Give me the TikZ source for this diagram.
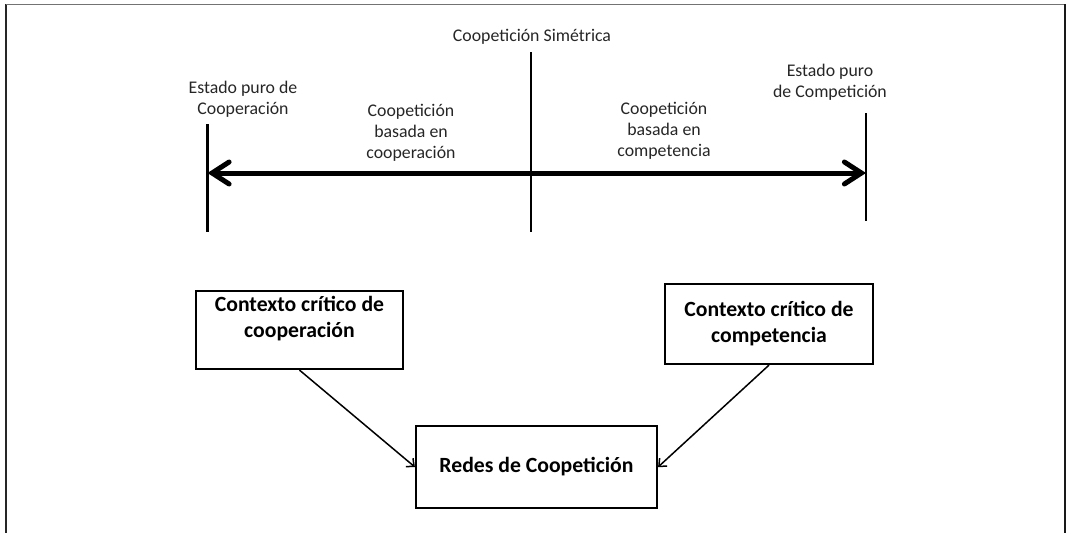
\documentclass[tikz,border=0pt]{standalone}
\usepackage{fontspec}
\setmainfont{Carlito}
\usetikzlibrary{arrows.meta}

\begin{document}
\begin{tikzpicture}[x=1pt,y=-1pt,
    every node/.style={align=center,inner sep=0pt,text=black!85,font=\fontsize{17.8}{21}\selectfont},
    contexto/.style={draw=black,line width=2.2pt,text=black,font=\bfseries\fontsize{21.7}{26}\selectfont},
    marca/.style={line width=2.4pt},
    flecha/.style={line width=1.5pt,-{Straight Barb[length=6pt,width=11pt]}}]
\useasboundingbox (0,0) rectangle (1066,533);
    \draw[line width=1.5pt,black!85] (6,533) -- (6,4);
    \draw[line width=1pt,black!55] (6,4) -- (1065,4);
    \draw[line width=2pt,black!90] (1065,4) -- (1065,533);

    \coordinate (coop) at (207.5,173);
    \coordinate (comp) at (866,173);
    \coordinate (sim) at (531,173);
    \draw[marca] (207.5,124) -- (207.5,232);
    \draw[marca] (531,52) -- (531,232);
    \draw[marca] (866,113) -- (866,221);
    \draw[line width=5pt,{Straight Barb[length=17pt,width=22pt,line cap=round]}-{Straight Barb[length=17pt,width=22pt,line cap=round]}] (coop) -- (comp);

    \node (puroCoop) at (243,99.5) {Estado puro de\\Cooperación};
    \node (simetrica) at (532,37) {Coopetición Simétrica};
    \node (basadaCoop) at (411,133) {Coopetición\\basada en\\cooperación};
    \node (basadaComp) at (664,131) {Coopetición\\basada en\\competencia};
    \node (puroComp) at (830,82.5) {Estado puro\\de Competición};

    \node[contexto,minimum width=207pt,minimum height=78pt] (ctxCoop) at (299.5,330) {Contexto crítico de\\cooperación\\~};
    \node[contexto,minimum width=208pt,minimum height=80pt] (ctxComp) at (769,324) {Contexto crítico de\\competencia};
    \node[contexto,minimum width=241pt,minimum height=82pt] (redes) at (536.5,467) {Redes de Coopetición};

    \draw[flecha] (ctxCoop.south) -- (redes.west);
    \draw[flecha] (ctxComp.south) -- (redes.east);
\end{tikzpicture}
\end{document}
